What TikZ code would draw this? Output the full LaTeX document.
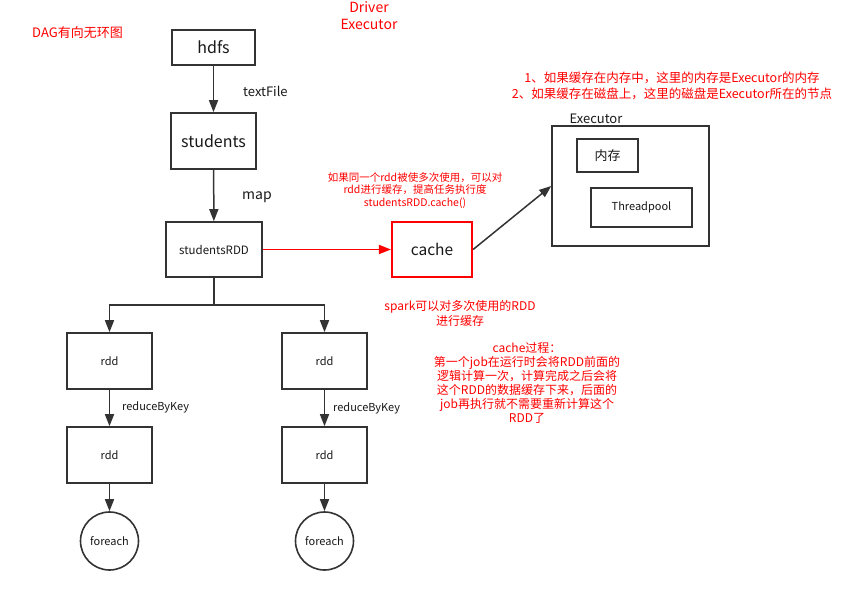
\documentclass[tikz,border=0pt]{standalone}
\usepackage{fontspec}
\setmainfont{Noto Sans CJK SC}
\usetikzlibrary{arrows.meta}

\begin{document}
\begin{tikzpicture}[x=1pt,y=-1pt,
  box/.style={draw=black!80, line width=1.6pt, minimum width=85pt, minimum height=56pt, inner sep=0pt, text=black!90},
  arr/.style={draw=black!80, line width=1.5pt, -{Triangle[length=12pt,width=9pt]}},
  note/.style={text=red, align=center, inner sep=0pt},
  lbl/.style={text=black!90, inner sep=0pt, anchor=west}]
\useasboundingbox[fill=white] (0,0) rectangle (853,601);

\node[note, font=\fontsize{13}{15}\selectfont] (dag) at (77.5,33) {DAG有向无环图};
\node[note, font=\fontsize{14}{17}\selectfont] (driver) at (369,15.5) {Driver\\Executor};
\node[note, font=\fontsize{12.5}{16}\selectfont] (memnote) at (672,86) {1、如果缓存在内存中，这里的内存是Executor的内存\\2、如果缓存在磁盘上，这里的磁盘是Executor所在的节点};
\node[note, font=\fontsize{10.5}{12.5}\selectfont] (cachenote) at (415,190.5) {如果同一个rdd被使多次使用，可以对\\rdd进行缓存，提高任务执行度\\studentsRDD.cache()};
\node[note, font=\fontsize{12}{15}\selectfont] (sparknote) at (460,313.5) {spark可以对多次使用的RDD\\进行缓存};
\node[note, font=\fontsize{12}{14}\selectfont] (procnote) at (527,383) {cache过程：\\第一个job在运行时会将RDD前面的\\逻辑计算一次，计算完成之后会将\\这个RDD的数据缓存下来，后面的\\job再执行就不需要重新计算这个\\RDD了};

\node[box, minimum width=83pt, minimum height=35pt, font=\fontsize{16}{19}\selectfont] (hdfs) at (213.5,47.5) {hdfs};
\node[box, font=\fontsize{16}{19}\selectfont] (students) at (213.5,141) {students};
\node[box, minimum width=96pt, minimum height=55pt, font=\fontsize{11.5}{14}\selectfont] (srdd) at (214,249.5) {studentsRDD};
\node[box, draw=red, line width=2.2pt, minimum width=80pt, minimum height=55pt, font=\fontsize{15.5}{18}\selectfont] (cache) at (432,249.5) {cache};

\node[box, minimum width=157pt, minimum height=120pt] (exec) at (630.5,186) {};
\node[lbl, anchor=center, font=\fontsize{13}{15}\selectfont] (execlbl) at (596,119) {Executor};
\node[box, minimum width=61pt, minimum height=33pt, font=\fontsize{13}{15}\selectfont] (mem) at (607.5,155.5) {内存};
\node[box, minimum width=101pt, minimum height=39pt, font=\fontsize{11}{13}\selectfont] (pool) at (641.5,207.5) {Threadpool};

\node[box, font=\fontsize{11}{13}\selectfont] (rdda1) at (109.5,361) {rdd};
\node[box, font=\fontsize{11}{13}\selectfont] (rdda2) at (109.5,455) {rdd};
\node[box, circle, minimum size=58pt, font=\fontsize{11}{13}\selectfont] (fa) at (109.5,541) {foreach};
\node[box, font=\fontsize{11}{13}\selectfont] (rddb1) at (324.5,361) {rdd};
\node[box, font=\fontsize{11}{13}\selectfont] (rddb2) at (324.5,455) {rdd};
\node[box, circle, minimum size=58pt, font=\fontsize{11}{13}\selectfont] (fb) at (324.5,541) {foreach};

\node[lbl, font=\fontsize{13}{15}\selectfont] (tf) at (243,91) {textFile};
\node[lbl, font=\fontsize{14}{16}\selectfont] (map) at (242,197) {map};
\node[lbl, font=\fontsize{11}{13}\selectfont] (rbka) at (122,407) {reduceByKey};
\node[lbl, font=\fontsize{11}{13}\selectfont] (rbkb) at (333,408) {reduceByKey};

\coordinate (split) at (214,305);

\draw[arr] (hdfs) -- (students);
\draw[arr] (students) -- (srdd);
\draw[arr, draw=red, fill=red, line width=1.8pt] (srdd) -- (cache);
\draw[arr] (cache.east) -- (exec.west);
\draw[draw=black!80, line width=1.5pt] (srdd) -- (split);
\draw[arr] (split) -| (rdda1);
\draw[arr] (split) -| (rddb1);
\draw[arr] (rdda1) -- (rdda2);
\draw[arr] (rdda2) -- (fa);
\draw[arr] (rddb1) -- (rddb2);
\draw[arr] (rddb2) -- (fb);
\end{tikzpicture}
\end{document}
